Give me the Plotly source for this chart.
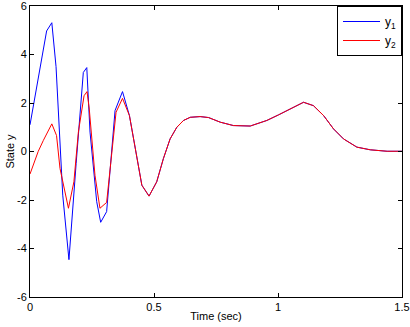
import plotly.graph_objects as go

# Shared smooth tail (both series coincide after ~0.45 s)
t_tail = [0.451, 0.48, 0.511, 0.538, 0.565, 0.592, 0.619, 0.646, 0.686, 0.72, 0.767, 0.82,
          0.888, 0.955, 1.002, 1.036, 1.07, 1.103, 1.143, 1.184, 1.224, 1.264, 1.318, 1.372,
          1.44, 1.5]
y_tail = [-1.39, -1.84, -1.25, -0.29, 0.52, 1.0, 1.28, 1.41, 1.44, 1.40, 1.21, 1.07,
          1.05, 1.28, 1.51, 1.69, 1.88, 2.03, 1.89, 1.48, 0.93, 0.52, 0.18, 0.07,
          0.01, 0.01]

# Series y1 (blue) – oscillating head
t1_head = [0.0, 0.067, 0.088, 0.105, 0.132, 0.157, 0.186, 0.215, 0.229, 0.242, 0.269, 0.285,
           0.309, 0.343, 0.373, 0.401]
y1_head = [1.1, 4.97, 5.31, 3.5, -1.8, -4.46, -0.5, 3.26, 3.46, 0.8, -2.07, -2.92,
           -2.48, 1.69, 2.47, 1.48]

# Series y2 (red) – oscillating head
t2_head = [0.0, 0.033, 0.054, 0.088, 0.107, 0.121, 0.155, 0.177, 0.195, 0.208, 0.218, 0.23,
           0.239, 0.262, 0.282, 0.309, 0.347, 0.373, 0.401]
y2_head = [-0.93, 0.0, 0.46, 1.14, 0.66, -0.7, -2.34, -1.25, 0.8, 1.55, 2.3, 2.47,
           1.75, -0.98, -2.34, -2.1, 1.62, 2.19, 1.48]

t1 = t1_head + t_tail
y1 = y1_head + y_tail
t2 = t2_head + t_tail
y2 = y2_head + y_tail

x_ticks = [0, 0.5, 1, 1.5]
x_tick_labels = ["0", "0.5", "1", "1.5"]
y_ticks = [-6, -4, -2, 0, 2, 4, 6]
y_tick_labels = ["-6", "-4", "-2", "0", "2", "4", "6"]

fig = go.Figure()
fig.add_trace(go.Scatter(x=t1, y=y1, mode="lines", name="y<sub>1</sub>",
                         line=dict(color="#0000ff", width=1)))
fig.add_trace(go.Scatter(x=t2, y=y2, mode="lines", name="y<sub>2</sub>",
                         line=dict(color="#ff0000", width=1)))

axis_common = dict(showline=True, linecolor="black", linewidth=1, mirror="ticks",
                   ticks="inside", ticklen=4, tickcolor="black", showgrid=False,
                   zeroline=False, automargin=False, ticklabeloverflow="allow",
                   tickfont=dict(family="Liberation Sans, Arial", size=11, color="black"))

fig.update_layout(
    width=410, height=327,
    margin=dict(l=30, r=8, t=6, b=30),
    paper_bgcolor="white", plot_bgcolor="white",
    font=dict(family="Liberation Sans, Arial", size=11, color="black"),
    xaxis=dict(range=[0, 1.5], tickvals=x_ticks, ticktext=x_tick_labels,
               title=dict(text="Time (sec)", standoff=0, font=dict(size=11)), **axis_common),
    yaxis=dict(range=[-6, 6], tickvals=y_ticks, ticktext=y_tick_labels,
               title=dict(text="State y", standoff=0, font=dict(size=11)), **axis_common),
    legend=dict(x=1, y=1, xanchor="right", yanchor="top", bgcolor="white",
                bordercolor="black", borderwidth=1, font=dict(size=12),
                itemwidth=37, tracegroupgap=0),
    showlegend=True,
)

fig.write_html("out.html", config={"displayModeBar": False},
               post_script="document.body.style.margin='0px';document.body.style.overflow='hidden';")
